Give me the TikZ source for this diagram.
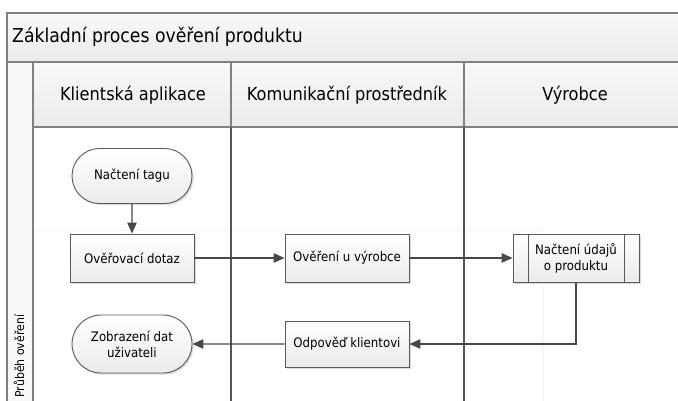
\documentclass[tikz,border=0pt]{standalone}
\usepackage{fontspec}
\setmainfont{DejaVu Sans Condensed}
\usetikzlibrary{shapes.misc,arrows.meta,shadows}

\definecolor{frameline}{HTML}{808080}
\definecolor{laneline}{HTML}{555555}
\definecolor{boxline}{HTML}{5A5A5A}
\definecolor{arrowline}{HTML}{484848}
\definecolor{bandtop}{HTML}{F8F8F8}
\definecolor{bandbot}{HTML}{EBEBEB}
\definecolor{boxbot}{HTML}{EBEBEB}
\definecolor{phaseline}{HTML}{F4F4F4}

\newcommand{\titlefont}{\fontsize{19.2}{23}\selectfont}
\newcommand{\headfont}{\fontsize{18}{22}\selectfont}
\newcommand{\boxfont}{\fontsize{13.1}{15.8}\selectfont}

\begin{document}
\begin{tikzpicture}[x=1pt,y=-1pt,
  band/.style={draw=frameline, line width=1.2pt, top color=bandtop, bottom color=bandbot},
  lanediv/.style={draw=laneline, line width=1.1pt},
  flowbox/.style={draw=boxline, line width=0.9pt, top color=white, bottom color=boxbot,
    minimum width=124pt, minimum height=48pt, inner sep=2pt, align=center, font=\boxfont,
    drop shadow={shadow xshift=1.6pt, shadow yshift=-1.6pt, fill=black!18, opacity=0.8}},
  terminal/.style={flowbox, rounded rectangle, minimum height=55pt},
  flow/.style={draw=arrowline, line width=1.2pt,
    -{Triangle[length=11pt,width=9.5pt]}},
  lanehead/.style={font=\headfont, anchor=center},
]
\useasboundingbox (0,0) rectangle (678,401);
\clip (0,0) rectangle (678,401);

% pool title band
\path[band] (7,13) rectangle (690,62);
\node[anchor=west, font=\titlefont, inner sep=0pt] (pooltitle) at (12,37) {Základní proces ověření produktu};

% lane strip on the left
\path[band, top color=bandtop, bottom color=bandtop] (7,62) rectangle (33,410);
\node[rotate=90, anchor=west, font=\fontsize{12.2}{14}\selectfont, inner sep=1pt] (lanelabel) at (19,399) {Průběh ověření};

% lane header row
\path[band] (33,62) rectangle (690,127);
\draw[frameline, line width=1.2pt] (231,62) -- (231,127) (464,62) -- (464,127);
\node[lanehead] (headclient) at (133,95) {Klientská aplikace};
\node[lanehead] (headbroker) at (347,95) {Komunikační prostředník};
\node[lanehead] (headmaker) at (575,95) {Výrobce};

% faint phase outline
\draw[phaseline, line width=1pt] (34,231) -- (543,231) -- (543,401);

% lane dividers
\draw[lanediv] (231,127) -- (231,405) (464,127) -- (464,405);

% flow elements
\node[terminal] (tag) at (132,176) {Načtení tagu};
\node[flowbox] (dotaz) at (132,258) {Ověřovací dotaz};
\node[flowbox] (overeni) at (347,258) {Ověření u výrobce};
\node[flowbox, minimum width=126pt] (udaje) at (576,258) {Načtení údajů\\o produktu};
\draw[boxline, line width=0.9pt]
  ([xshift=16pt]udaje.north west) -- ([xshift=16pt]udaje.south west)
  ([xshift=-15pt]udaje.north east) -- ([xshift=-15pt]udaje.south east);
\node[flowbox, minimum height=46pt] (odpoved) at (347,344) {Odpověď klientovi};
\node[terminal, minimum height=58pt] (zobraz) at (132,344) {Zobrazení dat\\uživateli};

% connectors
\draw[flow] (tag) -- (dotaz);
\draw[flow] (dotaz) -- (overeni);
\draw[flow] (overeni) -- (udaje);
\draw[flow] (udaje.south) |- (odpoved.east);
\draw[flow] (odpoved) -- (zobraz);
\end{tikzpicture}
\end{document}
